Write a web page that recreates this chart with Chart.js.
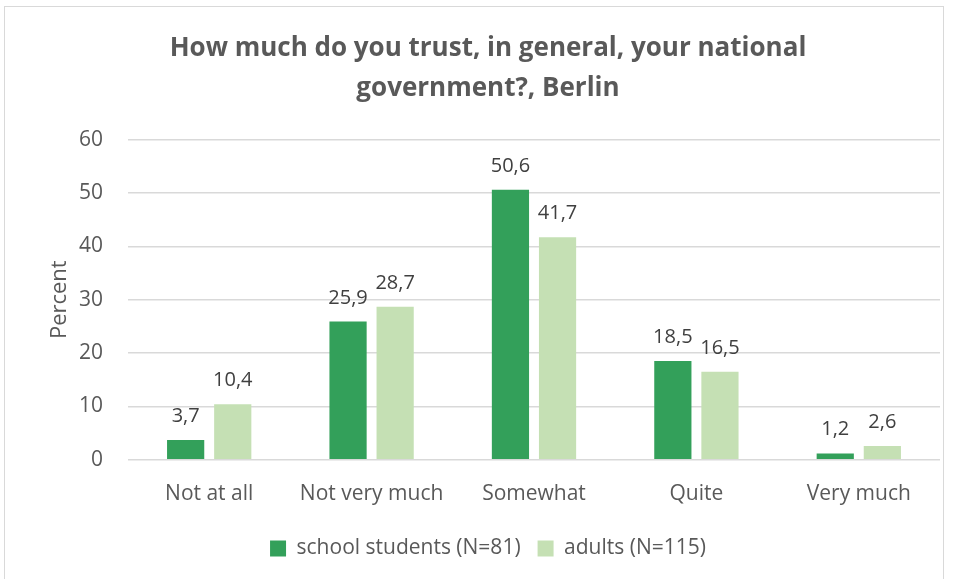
<!DOCTYPE html>
<html><head><meta charset="utf-8">
<script src="https://cdn.jsdelivr.net/npm/chart.js@4/dist/chart.umd.min.js"></script>
<style>
html,body{margin:0;padding:0;background:#fff;}
#frame{position:absolute;left:4px;top:6px;width:940px;height:590px;border:1px solid #d9d9d9;box-sizing:border-box;}
#wrap{position:absolute;left:0;top:0;width:956px;height:579px;}
</style></head>
<body>
<div id="frame"></div>
<div id="wrap"><canvas id="c" width="956" height="579"></canvas></div>
<script>
const categories = ["Not at all","Not very much","Somewhat","Quite","Very much"];
const schoolStudents = [3.7,25.9,50.6,18.5,1.2];
const adults = [10.4,28.7,41.7,16.5,2.6];
const seriesNames = ["school students (N=81)","adults (N=115)"];
const yTicks = [0,10,20,30,40,50,60];
const FONT = '"Open Sans", sans-serif';

const labelPlugin = {
  id:'valLabels',
  afterDatasetsDraw(chart){
    const ctx = chart.ctx;
    ctx.save();
    ctx.font = '20px "Open Sans", sans-serif';
    ctx.fillStyle = '#404040';
    ctx.textAlign = 'center';
    ctx.textBaseline = 'alphabetic';
    chart.data.datasets.forEach((ds,i)=>{
      chart.getDatasetMeta(i).data.forEach((bar,j)=>{
        ctx.fillText(ds.data[j].toFixed(1).replace('.',','), bar.x, bar.y-18);
      });
    });
    ctx.restore();
  }
};

new Chart(document.getElementById('c'),{
  type:'bar',
  data:{labels:categories,datasets:[
    {label:seriesNames[0],data:schoolStudents,backgroundColor:'#33a05a',categoryPercentage:0.58,barPercentage:0.79},
    {label:seriesNames[1],data:adults,backgroundColor:'#c5e0b4',categoryPercentage:0.58,barPercentage:0.79}
  ]},
  options:{
    responsive:false,animation:false,
    layout:{padding:{left:36,right:16,top:28,bottom:10}},
    plugins:{
      title:{display:true,text:["How much do you trust, in general, your national","government?, Berlin"],
        color:'#595959',font:{family:FONT,size:26,weight:'bold',lineHeight:1.55},padding:{top:0,bottom:31}},
      legend:{position:'bottom',labels:{color:'#595959',font:{family:FONT,size:21},boxWidth:16,boxHeight:16,padding:17}},
      tooltip:{enabled:false}
    },
    scales:{
      x:{grid:{display:false},border:{display:false},ticks:{color:'#595959',font:{family:FONT,size:21},padding:14}},
      y:{min:0,max:60,afterBuildTicks(ax){ax.ticks=yTicks.map(v=>({value:v}));},
        afterFit(s){s.width=92;},
        grid:{color:'#d9d9d9',lineWidth:1.5,drawTicks:false},border:{display:false},
        ticks:{color:'#595959',font:{family:FONT,size:21},padding:25},
        title:{display:true,text:'Percent',color:'#595959',font:{family:FONT,size:22},padding:{top:11,bottom:0}}}
    }
  },
  plugins:[labelPlugin]
});
</script>
</body></html>
